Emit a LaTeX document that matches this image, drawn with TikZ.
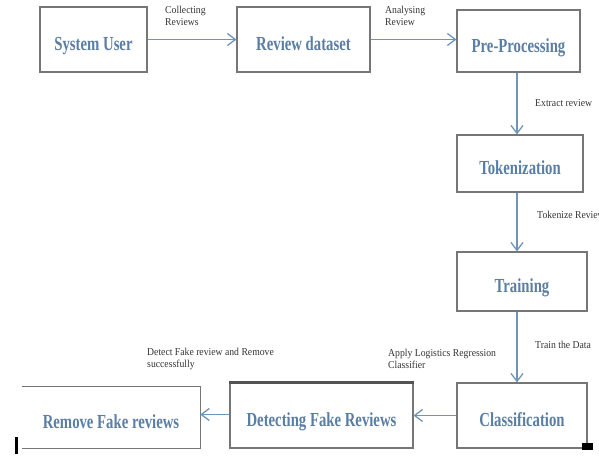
\documentclass[tikz,border=0pt]{standalone}
\usepackage{fontspec}
\setmainfont{Liberation Serif}
\newfontfamily\boxfont{Liberation Serif}[FakeStretch=0.74]
\newfontfamily\notefont{Liberation Serif}[FakeStretch=0.92]
\usetikzlibrary{arrows.meta,shadows}
\definecolor{StepBlue}{HTML}{5B7EA5}
\definecolor{LineBlue}{HTML}{6E94BA}
\definecolor{BoxGray}{HTML}{767676}

\begin{document}
\begin{tikzpicture}[x=0.03cm,y=-0.03cm,
  boxtext/.style={inner sep=0pt,text=StepBlue,font=\boxfont\fontsize{17}{20}\selectfont\bfseries,text height=19pt,text depth=0pt},
  box/.style={boxtext,draw=BoxGray,line width=0.9pt,fill=white,
    drop shadow={opacity=0.25,shadow xshift=0.6pt,shadow yshift=-0.6pt}},
  note/.style={anchor=west,align=left,inner sep=0pt,font=\notefont\fontsize{9}{10}\selectfont,text=black!80},
  arrow/.style={-{Straight Barb[length=2.4mm,width=3.6mm]},draw=LineBlue,line width=1.1pt}
]
\useasboundingbox (0,0) rectangle (599,455);
\node[box,minimum width=3.21cm,minimum height=1.95cm] (user) at (93.5,39.5) {System User};
\node[box,minimum width=3.99cm,minimum height=1.95cm] (dataset) at (303.5,39.5) {Review dataset};
\node[box,minimum width=3.69cm,minimum height=1.86cm] (prep) at (518.5,41) {Pre-Processing};
\node[box,minimum width=3.78cm,minimum height=1.71cm] (token) at (520,163.5) {Tokenization};
\node[box,minimum width=3.90cm,minimum height=1.77cm] (train) at (522,281.5) {Training};
\node[box,minimum width=3.90cm,minimum height=1.95cm] (classif) at (522,415.5) {Classification};
\node[box,minimum width=5.49cm,minimum height=1.95cm] (detect) at (321.5,415.5) {Detecting Fake Reviews};
\node[boxtext,minimum width=5.34cm,minimum height=1.83cm] (remove) at (111,417.5) {Remove Fake reviews};
% open box on the left side
\draw[BoxGray,line width=0.9pt] (remove.north west) -| (remove.south east) -- (remove.south west);
\draw[BoxGray!70!black,line width=1.8pt] (detect.north west) -- (detect.north east);
% labels
\node[note] (collect) at (165,16) {Collecting\\Reviews};
\node[note] (analyse) at (385,16) {Analysing\\Review};
\node[note] (extract) at (535,103) {Extract review};
\node[note] (tokrev) at (537,215) {Tokenize Review};
\node[note] (traindata) at (535,345) {Train the Data};
\node[note] (apply) at (388,359) {Apply Logistics Regression\\Classifier};
\node[note] (detrem) at (147,359) {Detect Fake review and Remove\\successfully};
% connectors
\draw[arrow] (user.east) -- (user.east -| dataset.west);
\draw[arrow] (dataset.east) -- (dataset.east -| prep.west);
\draw[arrow] ([xshift=-1.5*0.03cm]prep.south) -- ([xshift=-1.5*0.03cm]prep.south |- token.north);
\draw[arrow] ([xshift=-3*0.03cm]token.south) -- ([xshift=-3*0.03cm]token.south |- train.north);
\draw[arrow] ([xshift=-5*0.03cm]train.south) -- ([xshift=-5*0.03cm]train.south |- classif.north);
\draw[arrow] (classif.west) -- (classif.west -| detect.east);
\draw[arrow] ([yshift=0.03cm]detect.west) -- ([yshift=0.03cm]detect.west -| remove.east);
% marks
\fill (582,443) rectangle (593,450);
\fill (15,437) rectangle (18,454);
\end{tikzpicture}
\end{document}
